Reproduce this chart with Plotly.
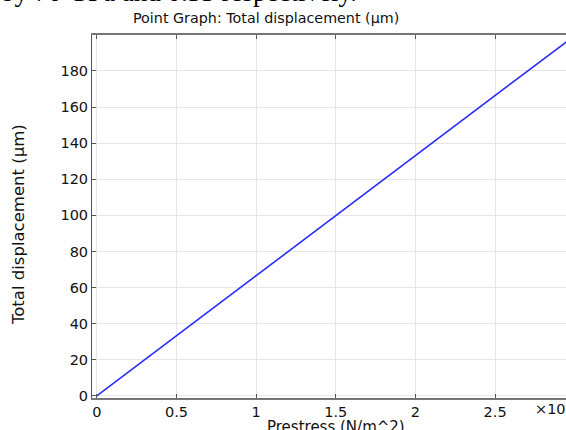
import plotly.graph_objects as go

# Data (x in units of 10^? N/m^2)
prestress = [0, 0.5, 1.0, 1.5, 2.0, 2.5, 3.0]
displacement = [0, 33.3, 66.5, 99.8, 133.1, 166.4, 199.6]

x_ticks = [0, 0.5, 1, 1.5, 2, 2.5]
x_ticklabels = ["0", "0.5", "1", "1.5", "2", "2.5"]
y_ticks = [0, 20, 40, 60, 80, 100, 120, 140, 160, 180]

W, H = 566, 430
ML, MR, MT, MB = 92, 0, 35, 32
PH = H - MT - MB
PW = W - ML - MR

FONT = "DejaVu Sans"

fig = go.Figure()
fig.add_trace(go.Scatter(
    x=prestress, y=displacement, mode="lines",
    line=dict(color="#2a2aff", width=1.6),
    showlegend=False, hoverinfo="skip",
))

def px_to_paper_x(px):
    return (px - ML) / PW

def px_to_paper_y(py):
    return (H - MB - py) / PH

fig.update_layout(
    width=W, height=H,
    margin=dict(l=ML, r=MR, t=MT, b=MB, pad=0),
    paper_bgcolor="white", plot_bgcolor="white",
    font=dict(family=FONT, size=14.5, color="#111"),
    xaxis=dict(
        range=[-0.03, 2.945],
        tickvals=x_ticks, ticktext=x_ticklabels,
        ticks="inside", ticklen=4, tickcolor="#555",
        showline=True, linecolor="#777", linewidth=1.5, mirror="ticks",
        showgrid=True, gridcolor="#e6e6e6", gridwidth=1,
        zeroline=False, tickfont=dict(size=14.5, family=FONT, color="#111"),
        fixedrange=True,
    ),
    yaxis=dict(
        range=[-1.2, 199.9],
        tickvals=y_ticks,
        ticks="inside", ticklen=4, tickcolor="#555",
        showline=True, linecolor="#555", linewidth=1,
        showgrid=True, gridcolor="#e6e6e6", gridwidth=1,
        zeroline=False, tickfont=dict(size=14.5, family=FONT, color="#111"),
        fixedrange=True,
    ),
    annotations=[
        dict(text="Point Graph: Total displacement (µm)",
             x=px_to_paper_x(266), y=px_to_paper_y(18), xref="paper", yref="paper",
             xanchor="center", yanchor="middle", showarrow=False,
             font=dict(family=FONT, size=14.3, color="#111")),
        dict(text="Total displacement (µm)",
             x=px_to_paper_x(19), y=px_to_paper_y(225), xref="paper", yref="paper",
             xanchor="center", yanchor="middle", textangle=-90, showarrow=False,
             font=dict(family=FONT, size=16.5, color="#111")),
        dict(text="Prestress (N/m^2)",
             x=px_to_paper_x(336), y=px_to_paper_y(427), xref="paper", yref="paper",
             xanchor="center", yanchor="middle", showarrow=False,
             font=dict(family=FONT, size=15, color="#111")),
        dict(text="×10",
             x=px_to_paper_x(533), y=px_to_paper_y(409), xref="paper", yref="paper",
             xanchor="left", yanchor="middle", showarrow=False,
             font=dict(family=FONT, size=14.5, color="#111")),
        dict(text="by 70 GPa and 0.33 respectively.",
             x=px_to_paper_x(-1), y=px_to_paper_y(-8), xref="paper", yref="paper",
             xanchor="left", yanchor="middle", showarrow=False,
             font=dict(family="Liberation Serif", size=27, color="#000")),
    ],
)

fig.write_html(
    "out.html",
    config={"displayModeBar": False},
    post_script="document.body.style.margin='0';document.body.style.overflow='hidden';",
)
